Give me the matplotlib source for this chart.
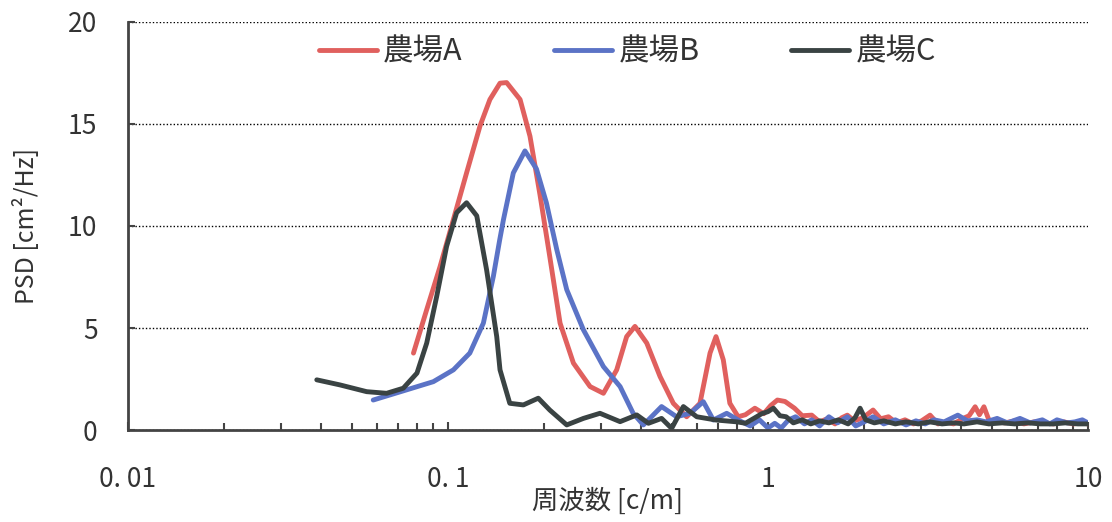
import numpy as np
import matplotlib
matplotlib.use('Agg')
import matplotlib.pyplot as plt
from matplotlib.ticker import FixedLocator, LogLocator, NullFormatter

plt.rcParams['font.family'] = ['Noto Sans CJK JP', 'DejaVu Sans']

# 農場A (red)
freq_a = [0.078, 0.0858, 0.0944, 0.1039, 0.1143, 0.1259, 0.1352, 0.1454, 0.1525, 0.168,
          0.1804, 0.194, 0.208, 0.224, 0.2466, 0.278, 0.306, 0.3367, 0.3617, 0.384,
          0.418, 0.46, 0.506, 0.557, 0.613, 0.659, 0.688, 0.725, 0.76, 0.807,
          0.85, 0.91, 0.97, 1.02, 1.07, 1.13, 1.21, 1.28, 1.37, 1.45, 1.53,
          1.62, 1.70, 1.77, 1.86, 1.98, 2.13, 2.25, 2.38, 2.52, 2.68,
          2.85, 3.02, 3.21, 3.40, 3.60, 3.80, 4.05, 4.25, 4.44, 4.58,
          4.73, 4.90, 5.2, 5.5, 5.9, 6.3, 6.8, 7.3, 7.8, 8.4, 9.0, 9.6, 10.0]
psd_a = [3.77, 5.9, 8.0, 10.3, 12.6, 14.9, 16.2, 17.0, 17.03, 16.2,
         14.4, 11.5, 8.5, 5.24, 3.28, 2.13, 1.8, 2.95, 4.58, 5.08,
         4.26, 2.62, 1.31, 0.65, 1.31, 3.77, 4.58, 3.44, 1.31, 0.65,
         0.75, 1.07, 0.8, 1.2, 1.47, 1.4, 1.07, 0.7, 0.73, 0.4, 0.55,
         0.3, 0.6, 0.73, 0.45, 0.6, 0.98, 0.55, 0.65, 0.35, 0.5,
         0.3, 0.45, 0.73, 0.3, 0.4, 0.3, 0.55, 0.7, 1.14, 0.75,
         1.14, 0.5, 0.4, 0.35, 0.45, 0.3, 0.4, 0.35, 0.3, 0.4, 0.3, 0.35, 0.3]

# 農場B (blue)
freq_b = [0.0584, 0.0743, 0.09, 0.104, 0.117, 0.129, 0.1386, 0.145, 0.149, 0.16,
          0.174, 0.189, 0.203, 0.2187, 0.235, 0.265, 0.306, 0.345, 0.379, 0.408,
          0.465, 0.518, 0.571, 0.628, 0.675, 0.743, 0.807, 0.88, 0.94, 1.0,
          1.05, 1.1, 1.16, 1.22, 1.3, 1.37, 1.45, 1.55, 1.65, 1.77, 1.88, 2.0, 2.13,
          2.3, 2.5, 2.7, 2.9, 3.1, 3.3, 3.55, 3.92, 4.2, 4.5,
          4.8, 5.2, 5.6, 6.13, 6.6, 7.2, 7.6, 8.0, 8.6, 9.1, 9.6, 10.0]
psd_b = [1.47, 1.97, 2.37, 2.95, 3.77, 5.24, 7.53, 9.3, 10.3, 12.6,
         13.68, 12.8, 11.14, 8.85, 6.88, 4.91, 3.11, 2.13, 0.82, 0.25,
         1.15, 0.65, 0.82, 1.39, 0.49, 0.82, 0.49, 0.2, 0.5, 0.1,
         0.33, 0.1, 0.5, 0.65, 0.3, 0.5, 0.2, 0.65, 0.35, 0.65, 0.2, 0.4, 0.65,
         0.3, 0.5, 0.25, 0.45, 0.3, 0.5, 0.4, 0.73, 0.45, 0.5,
         0.4, 0.57, 0.35, 0.57, 0.35, 0.5, 0.3, 0.5, 0.35, 0.4, 0.5, 0.35]

# 農場C (dark)
freq_c = [0.0389, 0.046, 0.0557, 0.0643, 0.0725, 0.08, 0.0858, 0.0922, 0.099, 0.1064,
          0.1143, 0.123, 0.132, 0.142, 0.1454, 0.156, 0.172, 0.1915, 0.208, 0.235,
          0.265, 0.2985, 0.345, 0.389, 0.423, 0.465, 0.5, 0.544, 0.599, 0.688,
          0.8, 0.85, 0.91, 0.956, 1.0, 1.04, 1.09, 1.14, 1.2, 1.28, 1.36, 1.45, 1.55,
          1.66, 1.78, 1.87, 1.94, 2.02, 2.15, 2.3, 2.5, 2.7, 2.95,
          3.2, 3.5, 3.8, 4.1, 4.5, 4.9, 5.4, 5.9, 6.5, 7.1, 7.8, 8.5, 9.3, 10.0]
psd_c = [2.46, 2.21, 1.88, 1.8, 2.05, 2.79, 4.26, 6.55, 9.0, 10.65,
         11.14, 10.5, 7.86, 4.58, 2.95, 1.31, 1.23, 1.56, 0.98, 0.25,
         0.57, 0.82, 0.41, 0.74, 0.33, 0.57, 0.08, 1.15, 0.65, 0.49,
         0.4, 0.33, 0.6, 0.8, 0.9, 1.07, 0.7, 0.65, 0.35, 0.5, 0.3, 0.45, 0.35,
         0.5, 0.3, 0.6, 1.07, 0.5, 0.35, 0.45, 0.3, 0.4, 0.3,
         0.4, 0.3, 0.35, 0.3, 0.4, 0.3, 0.35, 0.3, 0.35, 0.3, 0.3, 0.35, 0.3, 0.3]

labels = ['農場A', '農場B', '農場C']
colors = ['#E0605E', '#5B73C6', '#3A4343']

xticks = [0.01, 0.1, 1, 10]
xticklabels = ['0. 01', '0. 1', '1', '10']
yticks = [0, 5, 10, 15, 20]

fig = plt.figure(figsize=(11.12, 5.22), dpi=100)
ax = fig.add_axes([0.1151, 0.1762, 0.8633, 0.7817])

for f, p, lab, c in zip([freq_a, freq_b, freq_c], [psd_a, psd_b, psd_c], labels, colors):
    ax.plot(f, p, color=c, lw=3.5, label=lab, solid_capstyle='round', solid_joinstyle='round')

ax.set_xscale('log')
ax.set_xlim(0.01, 10)
ax.set_ylim(0, 20)

ax.xaxis.set_major_locator(FixedLocator(xticks))
ax.set_xticklabels(xticklabels)
ax.xaxis.set_minor_locator(LogLocator(base=10, subs=np.arange(2, 10)))
ax.xaxis.set_minor_formatter(NullFormatter())
ax.set_yticks(yticks)

ax.grid(axis='y', which='major', color='black', linestyle=(0, (1, 1.5)), lw=1.0)
ax.set_axisbelow(True)

for s in ['top', 'right']:
    ax.spines[s].set_visible(False)
for s in ['left', 'bottom']:
    ax.spines[s].set_color('#444444')
    ax.spines[s].set_linewidth(2.0)

ax.tick_params(axis='x', which='major', direction='in', length=6, width=1.5,
               color='#444444', labelsize=19, pad=26, labelcolor='#333333')
ax.tick_params(axis='x', which='minor', direction='in', length=5, width=1.5, color='#444444')
ax.tick_params(axis='y', which='major', direction='in', length=5, width=1.5,
               color='#444444', labelsize=19, pad=22, labelcolor='#333333')

ax.set_xlabel('周波数 [c/m]', fontsize=19, color='#333333', labelpad=-4)
ax.set_ylabel('PSD [cm²/Hz]', fontsize=18, color='#333333', labelpad=20)

ax.legend(loc='center', bbox_to_anchor=(0.52, 0.926), ncol=3, frameon=False,
          fontsize=22, handlelength=1.9, handletextpad=0.2, columnspacing=3.0,
          labelcolor='#333333')

fig.savefig('out.png', dpi=100)
